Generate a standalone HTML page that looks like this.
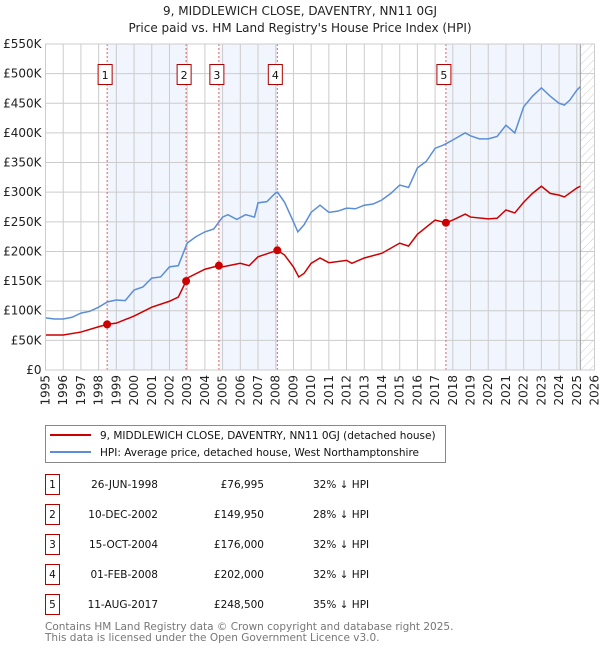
<!DOCTYPE html>
<html><head><meta charset="utf-8"><style>
body{margin:0;background:#fff;font-family:"DejaVu Sans","Liberation Sans",sans-serif;}
svg text{font-family:"DejaVu Sans","Liberation Sans",sans-serif;}
</style></head><body>
<svg id="chart" width="600" height="650" xmlns="http://www.w3.org/2000/svg">
<defs><pattern id="hatch" width="6" height="6" patternUnits="userSpaceOnUse" patternTransform="rotate(45)"><line x1="0" y1="0" x2="0" y2="6" stroke="#ccc" stroke-width="1"/></pattern></defs>
<text x="300" y="15" text-anchor="middle" font-size="12" fill="#222">9, MIDDLEWICH CLOSE, DAVENTRY, NN11 0GJ</text>
<text x="300" y="32" text-anchor="middle" font-size="12" fill="#222">Price paid vs. HM Land Registry's House Price Index (HPI)</text>
<g id="plot"></g>
<g>
<rect x="45.5" y="425.5" width="400" height="37" fill="#fff" stroke="#888"/>
<line x1="50" y1="435" x2="91" y2="435" stroke="#cc0000" stroke-width="2"/>
<text x="100" y="439" font-size="10.5" fill="#111">9, MIDDLEWICH CLOSE, DAVENTRY, NN11 0GJ (detached house)</text>
<line x1="50" y1="452" x2="91" y2="452" stroke="#5b8ed6" stroke-width="2"/>
<text x="100" y="456" font-size="10.5" fill="#111">HPI: Average price, detached house, West Northamptonshire</text>
</g>
<g id="table"></g>
<text x="45" y="630" font-size="10.5" fill="#777">Contains HM Land Registry data © Crown copyright and database right 2025.</text>
<text x="45" y="641" font-size="10.5" fill="#777">This data is licensed under the Open Government Licence v3.0.</text>
</svg>
<script>
const hpiYears=[1995,1995.5,1996,1996.5,1997,1997.5,1998,1998.5,1999,1999.5,2000,2000.5,2001,2001.5,2002,2002.5,2003,2003.5,2004,2004.5,2005,2005.3,2005.8,2006.3,2006.8,2007,2007.5,2008,2008.1,2008.5,2009,2009.25,2009.6,2010,2010.5,2011,2011.5,2012,2012.5,2013,2013.5,2014,2014.5,2015,2015.5,2016,2016.5,2017,2017.5,2018,2018.7,2019,2019.5,2020,2020.5,2021,2021.5,2022,2022.5,2023,2023.5,2024,2024.3,2024.6,2025,2025.2];
const hpiValues=[88,86,86,89,96,99,106,115,118,117,135,140,155,157,174,176,214,225,233,238,258,262,254,262,258,282,284,299,300,283,250,233,245,266,278,266,268,273,272,278,280,287,298,312,308,341,352,374,380,388,400,395,390,390,394,413,400,444,462,476,462,450,447,455,472,478];
const ppYears=[1995,1996,1997,1998,1998.48,1999,2000,2001,2002,2002.5,2002.94,2003,2004,2004.79,2005,2006,2006.5,2007,2007.5,2008.09,2008.5,2009,2009.3,2009.6,2010,2010.5,2011,2012,2012.3,2013,2014,2015,2015.5,2016,2017,2017.61,2018,2018.7,2019,2020,2020.5,2021,2021.5,2022,2022.5,2023,2023.5,2024,2024.3,2025,2025.2];
const ppValues=[59,59,64,73,77,79,91,106,116,123,150,155,170,176,174,180,176,191,196,202,194,174,157,163,180,189,181,185,180,189,197,214,209,229,253,248.5,253,263,258,255,256,270,265,283,298,310,298,295,292,307,310];
const saleYears=[1998.48,2002.94,2004.79,2008.09,2017.61];
const saleValues=[76.995,149.95,176,202,248.5];
const saleLabels=["1","2","3","4","5"];
const saleDates=["26-JUN-1998","10-DEC-2002","15-OCT-2004","01-FEB-2008","11-AUG-2017"];
const salePrices=["£76,995","£149,950","£176,000","£202,000","£248,500"];
const saleHpi=["32% ↓ HPI","28% ↓ HPI","32% ↓ HPI","32% ↓ HPI","35% ↓ HPI"];
const yTicks=[0,50,100,150,200,250,300,350,400,450,500,550];
const yTickLabels=["£0","£50K","£100K","£150K","£200K","£250K","£300K","£350K","£400K","£450K","£500K","£550K"];
const xTicks=[1995,1996,1997,1998,1999,2000,2001,2002,2003,2004,2005,2006,2007,2008,2009,2010,2011,2012,2013,2014,2015,2016,2017,2018,2019,2020,2021,2022,2023,2024,2025,2026];
const dataEnd=2025.2;

const NS="http://www.w3.org/2000/svg";
const X0=45.5,X1=594.5,Y0=370,Y1=44;
const x=v=>X0+(v-1995)/(2026-1995)*(X1-X0);
const y=v=>Y0-v/550*(Y0-Y1);
const plot=document.getElementById('plot');
function mk(tag,attrs,parent){const e=document.createElementNS(NS,tag);for(const k in attrs)e.setAttribute(k,attrs[k]);(parent||plot).appendChild(e);return e;}
const shadePairs=[[saleYears[0],saleYears[1]],[saleYears[2],saleYears[3]],[saleYears[4],dataEnd]];
shadePairs.forEach((p,i)=>{const r=mk('rect',{x:x(p[0]),y:Y1,width:x(p[1])-x(p[0]),height:Y0-Y1,fill:'#f1f5fd'});

});
const h=mk('rect',{x:x(dataEnd),y:Y1,width:X1-x(dataEnd),height:Y0-Y1,fill:'url(#hatch)'});


yTicks.forEach((t,i)=>{const l=mk('line',{x1:X0,x2:X1,y1:y(t),y2:y(t),stroke:'#ccc','stroke-width':1});


const tx=mk('text',{x:X0-4,y:y(t)+4,'text-anchor':'end','font-size':12,fill:'#222'});tx.textContent=yTickLabels[i];

});
xTicks.forEach(t=>{const l=mk('line',{x1:x(t),x2:x(t),y1:Y1,y2:Y0,stroke:'#ccc','stroke-width':1});


const tx=mk('text',{x:0,y:0,'text-anchor':'end','font-size':12,fill:'#222',transform:`translate(${x(t)+4},${Y0+5}) rotate(-90)`});tx.textContent=t;

});
const vl=mk('line',{x1:x(dataEnd),x2:x(dataEnd),y1:Y1,y2:Y0,stroke:'#999','stroke-width':1});


saleYears.forEach(s=>{const l=mk('line',{x1:x(s),x2:x(s),y1:Y1,y2:Y0,stroke:'#e06060','stroke-width':1,'stroke-dasharray':'2,2'});

});
const hp=mk('polyline',{points:hpiYears.map((v,i)=>x(v)+','+y(hpiValues[i])).join(' '),fill:'none',stroke:'#5b8ed6','stroke-width':1.5});


const pp=mk('polyline',{points:ppYears.map((v,i)=>x(v)+','+y(ppValues[i])).join(' '),fill:'none',stroke:'#cc0000','stroke-width':1.5});


saleYears.forEach((s,i)=>{const c=mk('circle',{cx:x(s),cy:y(saleValues[i]),r:4,fill:'#cc0000'});


const b=mk('rect',{x:x(s)-9,y:64.5,width:14,height:20,fill:'#fff',stroke:'#b00000'});


const t=mk('text',{x:x(s)-2,y:79,'text-anchor':'middle','font-size':11,fill:'#111'});t.textContent=saleLabels[i];

});
const fr=mk('rect',{x:X0,y:Y1,width:X1-X0,height:Y0-Y1,fill:'none',stroke:'#ccc'});


const tb=document.getElementById('table');
saleLabels.forEach((lab,i)=>{const cy=485+i*30;
const b=mk('rect',{x:45.5,y:cy-10.5,width:14,height:20,fill:'#fff',stroke:'#b00000'},tb);


const t=mk('text',{x:52.5,y:cy+3,'text-anchor':'middle','font-size':10.5,fill:'#111'},tb);t.textContent=lab;


const d=mk('text',{x:158,y:cy+3,'text-anchor':'end','font-size':10.5,fill:'#111'},tb);d.textContent=saleDates[i];


const p=mk('text',{x:264,y:cy+3,'text-anchor':'end','font-size':10.5,fill:'#111'},tb);p.textContent=salePrices[i];


const q=mk('text',{x:313,y:cy+3,'font-size':10.5,fill:'#111'},tb);q.textContent=saleHpi[i];

});
</script>
</body></html>
